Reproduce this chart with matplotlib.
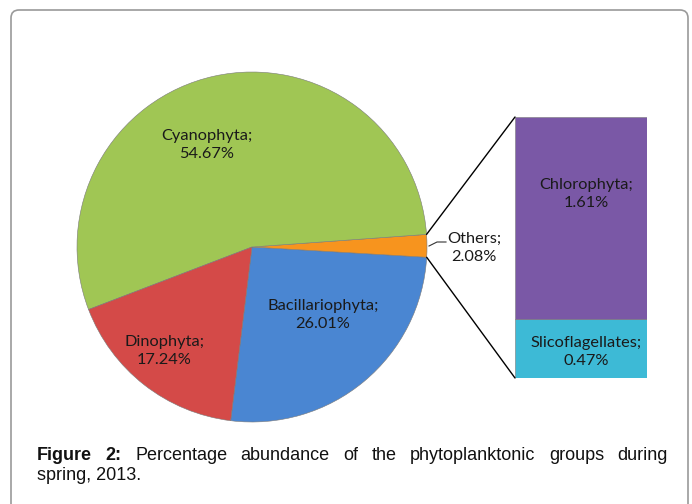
import matplotlib.pyplot as plt
from matplotlib.patches import FancyBboxPatch, ConnectionPatch
import numpy as np

# pie part (Others = Chlorophyta + Slicoflagellates)
pie_names = ["Bacillariophyta", "Others", "Cyanophyta", "Dinophyta"]
pie_values = [26.01, 2.08, 54.67, 17.24]
pie_colors = ["#4A86D2", "#F7941E", "#A0C654", "#D44A48"]

# bar part (breakdown of Others)
bar_names = ["Slicoflagellates", "Chlorophyta"]
bar_values = [0.47, 1.61]
bar_colors = ["#3DBAD6", "#7A58A6"]

W, H = 692, 504
fig = plt.figure(figsize=(W / 100, H / 100), dpi=100)
ax = fig.add_axes([0, 0, 1, 1])

# pixel coordinates, y measured upwards
cx, cy, R = 252, 504 - 247, 175
start = -97.0
wedges, _ = ax.pie(pie_values, colors=pie_colors, startangle=start, counterclock=True,
                   center=(cx, cy), radius=R, frame=True,
                   wedgeprops=dict(edgecolor="#7a7a7a", linewidth=0.4))
ax.set_xlim(0, W)
ax.set_ylim(0, H)
ax.set_aspect("equal")
ax.axis("off")

lab_font = dict(family=["Lato", "DejaVu Sans"], fontsize=11.8, color="#1a1a1a",
                ha="center", va="center", linespacing=1.4)
label_pos = {"Cyanophyta": (207, 145), "Bacillariophyta": (323, 315),
             "Dinophyta": (164, 351), "Others": (474, 248)}
for name, val in zip(pie_names, pie_values):
    x, y = label_pos[name]
    ax.text(x, H - y, f"{name};\n{val:.2f}%", **lab_font)

# leader for Others
ax.plot([429, 437, 446], [H - 246, H - 242, H - 242], color="#333333", lw=0.8)

# bar of pie
bx0, bx1, by0, by1 = 515, 647, 117, 378
bax = fig.add_axes([bx0 / W, (H - by1) / H, (bx1 - bx0) / W, (by1 - by0) / H])
bottom = 0
offsets = {"Slicoflagellates": -0.03, "Chlorophyta": 0.19}
for name, val, col in zip(bar_names, bar_values, bar_colors):
    bax.bar(0, val, bottom=bottom, width=1, color=col, edgecolor="#7a7a7a", linewidth=0.4)
    bax.text(0.04, bottom + val / 2 + offsets[name], f"{name};\n{val:.2f}%", **lab_font)
    bottom += val
bax.set_xlim(-0.5, 0.5)
bax.set_ylim(0, sum(bar_values))
bax.axis("off")

# connectors from Others wedge to the bar
t1 = np.deg2rad(wedges[1].theta1)
t2 = np.deg2rad(wedges[1].theta2)
for t, yb in [(t2, sum(bar_values)), (t1, 0)]:
    con = ConnectionPatch(xyA=(cx + R * np.cos(t), cy + R * np.sin(t)), coordsA=ax.transData,
                          xyB=(-0.5, yb), coordsB=bax.transData, color="black", lw=1)
    fig.add_artist(con)

# outer rounded frame
frame = FancyBboxPatch((11, -20), 677, H - 10 + 20, boxstyle="round,pad=0,rounding_size=8",
                       transform=ax.transData, fill=False, edgecolor="#9a9a9a", lw=1.2,
                       clip_on=False)
ax.add_patch(frame)

# justified caption
cap_font = ["Liberation Sans", "DejaVu Sans"]
cap_size = 13
words = [("Figure", "bold"), ("2:", "bold"), ("Percentage", "normal"), ("abundance", "normal"),
         ("of", "normal"), ("the", "normal"), ("phytoplanktonic", "normal"),
         ("groups", "normal"), ("during", "normal")]
renderer = fig.canvas.get_renderer()
texts = [ax.text(0, H - 455, w, family=cap_font, fontweight=fw, fontsize=cap_size,
                 va="center", ha="left", color="#111111") for w, fw in words]
widths = [t.get_window_extent(renderer).width for t in texts]
left, right = 37, 668
gap = (right - left - sum(widths)) / (len(words) - 1)
x = left
for t, w in zip(texts, widths):
    t.set_x(x)
    x += w + gap
ax.text(left, H - 475, "spring, 2013.", family=cap_font, fontsize=cap_size, va="center",
        ha="left", color="#111111")

fig.savefig("out.png", dpi=100)
